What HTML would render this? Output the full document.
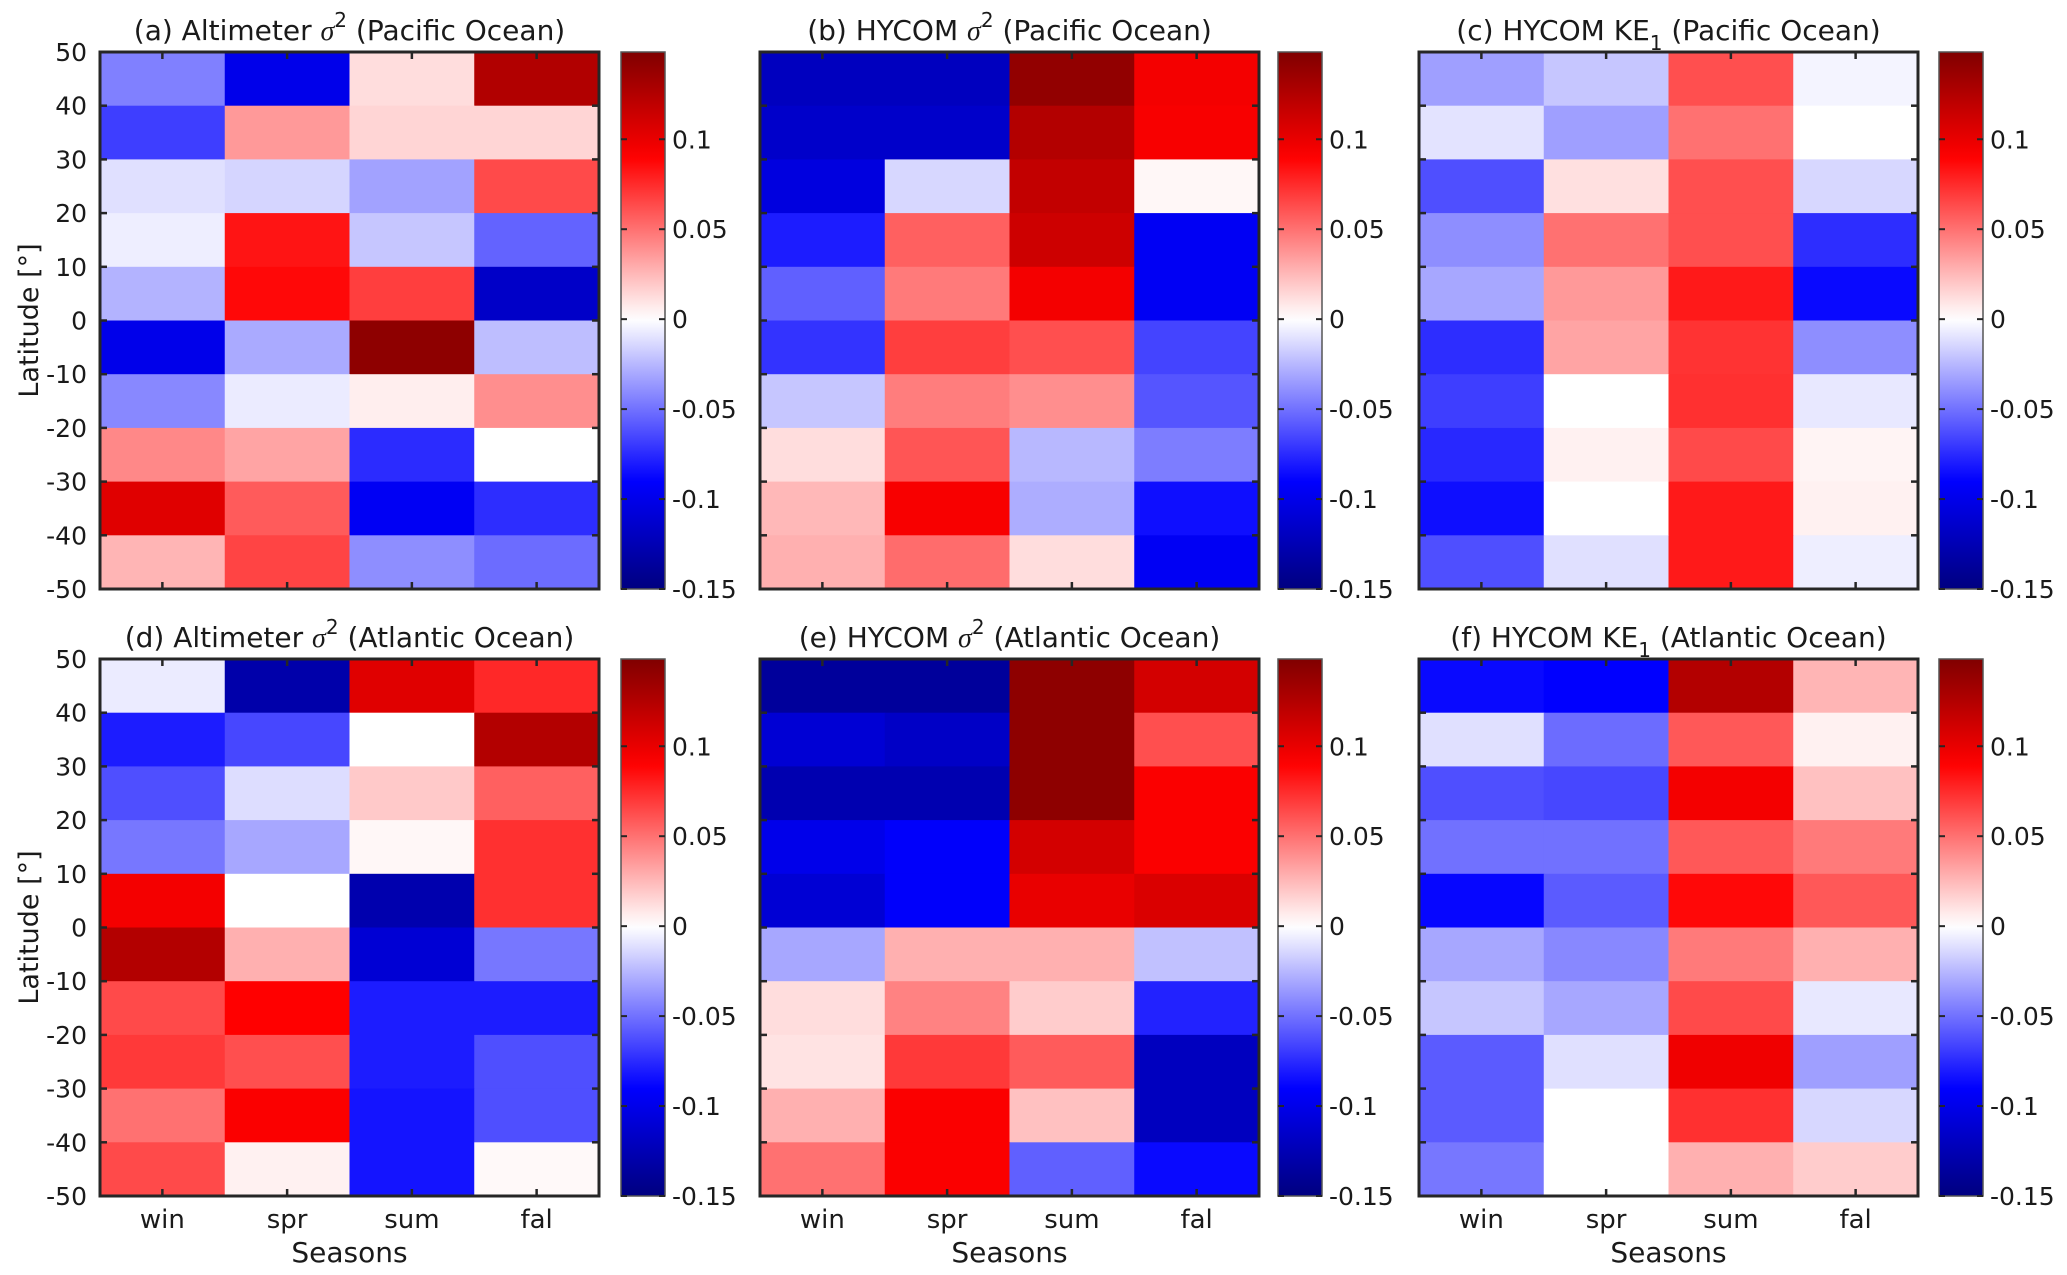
<!DOCTYPE html>
<html><head><meta charset="utf-8"><style>
html,body{margin:0;padding:0;background:#fff;}
svg{display:block;}
text{font-family:"DejaVu Sans","Liberation Sans",sans-serif;fill:#1a1a1a;}
</style></head><body>
<svg id="fig" width="2067" height="1275" viewBox="0 0 2067 1275" xmlns="http://www.w3.org/2000/svg"></svg>
<script>
const seasons = ["win","spr","sum","fal"];
const latTicks = [50,40,30,20,10,0,-10,-20,-30,-40,-50];
const cbTicks = [0.1,0.05,0,-0.05,-0.1,-0.15];
const cbTickLabels = ["0.1","0.05","0","-0.05","-0.1","-0.15"];
// rows: latitude bins top (40..50) to bottom (-50..-40); columns win,spr,sum,fal
const valsA = [[-0.045,-0.1,0.012,0.126],[-0.068,0.036,0.015,0.015],[-0.011,-0.015,-0.033,0.064],[-0.006,0.083,-0.02,-0.055],[-0.027,0.087,0.068,-0.116],[-0.1,-0.03,0.142,-0.023],[-0.042,-0.007,0.006,0.04],[0.042,0.032,-0.075,0],[0.104,0.058,-0.095,-0.074],[0.026,0.066,-0.04,-0.052]];
const valsB = [[-0.12,-0.12,0.14,0.095],[-0.115,-0.115,0.125,0.093],[-0.105,-0.014,0.118,0.003],[-0.08,0.056,0.113,-0.095],[-0.056,0.047,0.095,-0.095],[-0.072,0.068,0.062,-0.066],[-0.02,0.046,0.04,-0.06],[0.012,0.06,-0.025,-0.046],[0.025,0.093,-0.029,-0.085],[0.028,0.052,0.012,-0.095]];
const valsC = [[-0.034,-0.02,0.062,-0.004],[-0.01,-0.034,0.05,0],[-0.062,0.011,0.062,-0.014],[-0.04,0.05,0.062,-0.074],[-0.031,0.036,0.081,-0.087],[-0.074,0.032,0.072,-0.04],[-0.068,0,0.073,-0.008],[-0.076,0.005,0.064,0.004],[-0.085,0,0.081,0.005],[-0.062,-0.011,0.081,-0.006]];
const valsD = [[-0.007,-0.13,0.104,0.076],[-0.08,-0.065,0,0.125],[-0.062,-0.012,0.019,0.056],[-0.048,-0.031,0.003,0.073],[0.095,0,-0.128,0.073],[0.125,0.028,-0.11,-0.048],[0.064,0.09,-0.08,-0.08],[0.07,0.062,-0.08,-0.062],[0.05,0.092,-0.083,-0.062],[0.064,0.005,-0.083,0.002]];
const valsE = [[-0.137,-0.137,0.142,0.11],[-0.11,-0.117,0.142,0.062],[-0.127,-0.127,0.142,0.092],[-0.1,-0.092,0.11,0.092],[-0.11,-0.092,0.1,0.107],[-0.031,0.028,0.028,-0.022],[0.012,0.044,0.018,-0.078],[0.01,0.07,0.058,-0.12],[0.028,0.092,0.022,-0.12],[0.05,0.092,-0.056,-0.087]];
const valsF = [[-0.087,-0.09,0.125,0.026],[-0.011,-0.052,0.059,0.005],[-0.062,-0.065,0.095,0.022],[-0.05,-0.05,0.059,0.047],[-0.088,-0.058,0.087,0.059],[-0.031,-0.042,0.047,0.028],[-0.02,-0.031,0.064,-0.008],[-0.058,-0.011,0.097,-0.034],[-0.058,0,0.073,-0.014],[-0.048,0,0.028,0.018]];

const NS="http://www.w3.org/2000/svg";
const svg=document.getElementById('fig');
function mk(tag,attrs,parent){const e=document.createElementNS(NS,tag);for(const k in attrs)e.setAttribute(k,attrs[k]);(parent||svg).appendChild(e);return e;}
const VMIN=-0.15,VMAX=0.1485;
function cmap(v){
  let r,g,b;
  if(v<=-0.09){const t=Math.min(1,(-0.09-v)/0.06);r=0;g=0;b=1-0.5*t;}
  else if(v<0){const t=(v+0.09)/0.09;r=t;g=t;b=1;}
  else if(v<=0.09){const t=v/0.09;r=1;g=1-t;b=1-t;}
  else{const t=Math.min(1,(v-0.09)/0.0585);r=1-0.5*t;g=0;b=0;}
  return `rgb(${Math.round(r*255)},${Math.round(g*255)},${Math.round(b*255)})`;
}
const colsX=[100,760,1419], AW=499;
const rowsY=[52,659], AH=537;
const cbOff=[521,518,520], CBW=44;
const panels=[
 {id:'a',vals:valsA,col:0,row:0,pre:'(a) Altimeter ',kind:'sig',post:' (Pacific Ocean)'},
 {id:'b',vals:valsB,col:1,row:0,pre:'(b) HYCOM ',kind:'sig',post:' (Pacific Ocean)'},
 {id:'c',vals:valsC,col:2,row:0,pre:'(c) HYCOM ',kind:'ke',post:' (Pacific Ocean)'},
 {id:'d',vals:valsD,col:0,row:1,pre:'(d) Altimeter ',kind:'sig',post:' (Atlantic Ocean)'},
 {id:'e',vals:valsE,col:1,row:1,pre:'(e) HYCOM ',kind:'sig',post:' (Atlantic Ocean)'},
 {id:'f',vals:valsF,col:2,row:1,pre:'(f) HYCOM ',kind:'ke',post:' (Atlantic Ocean)'}
];
const defs=mk('defs',{});
const grad=mk('linearGradient',{id:'cbg',x1:0,y1:1,x2:0,y2:0},defs);
for(let i=0;i<=40;i++){const v=VMIN+(VMAX-VMIN)*i/40;mk('stop',{offset:(i/40),'stop-color':cmap(v)},grad);}

panels.forEach(p=>{
  const x0=colsX[p.col], y0=rowsY[p.row];
  const g=mk('g',{});
  
  
  const nR=p.vals.length, nC=seasons.length;
  const xs=c=>x0+AW*c/nC;
  const ys=lat=>y0+AH*(50-lat)/100;
  p.vals.forEach((row,ri)=>{
    row.forEach((v,ci)=>{
      const top=50-10*ri;
      const r=mk('rect',{x:xs(ci),y:ys(top),width:AW/nC+0.6,height:AH/nR+0.6,fill:cmap(v)},g);
      
      
    });
  });
  latTicks.forEach(t=>{
    const y=ys(t);
    mk('line',{x1:x0,y1:y,x2:x0+7,y2:y,stroke:'#262626','stroke-width':2.5},g);
    mk('line',{x1:x0+AW,y1:y,x2:x0+AW-7,y2:y,stroke:'#262626','stroke-width':2.5},g);
    if(p.col===0){const tl=mk('text',{x:x0-13,y:y+9,'text-anchor':'end','font-size':25},g);tl.textContent=t;
      }
  });
  seasons.forEach((s,ci)=>{
    const x=xs(ci+0.5);
    mk('line',{x1:x,y1:y0,x2:x,y2:y0+7,stroke:'#262626','stroke-width':2.5},g);
    mk('line',{x1:x,y1:y0+AH,x2:x,y2:y0+AH-7,stroke:'#262626','stroke-width':2.5},g);
    if(p.row===1){const tl=mk('text',{x:x,y:y0+AH+32,'text-anchor':'middle','font-size':26},g);tl.textContent=s;
      }
  });
  const fr=mk('rect',{x:x0,y:y0,width:AW,height:AH,fill:'none',stroke:'#262626','stroke-width':3},g);
  
  const tt=mk('text',{x:x0+AW/2,y:y0-12,'text-anchor':'middle','font-size':28},g);
  
  let t1=mk('tspan',{},tt);t1.textContent=p.pre;
  if(p.kind==='sig'){
    let s=mk('tspan',{'font-family':'Liberation Serif, serif','font-style':'italic'},tt);s.textContent='σ';
    let sp=mk('tspan',{dy:-13,'font-size':20},tt);sp.textContent='2';
    let t2=mk('tspan',{dy:13},tt);t2.textContent=p.post;
  } else {
    let s=mk('tspan',{},tt);s.textContent='KE';
    let sb=mk('tspan',{dy:10,'font-size':20},tt);sb.textContent='1';
    let t2=mk('tspan',{dy:-10},tt);t2.textContent=p.post;
  }
  if(p.col===0){
    const yl=mk('text',{x:0,y:0,'text-anchor':'middle','font-size':27,transform:`translate(38,${y0+AH/2}) rotate(-90)`},g);
    yl.textContent='Latitude [°]';
    
  }
  if(p.row===1){
    const xl=mk('text',{x:x0+AW/2,y:y0+AH+66,'text-anchor':'middle','font-size':28},g);
    xl.textContent='Seasons';
    
  }
  const cx=x0+cbOff[p.col];
  const cb=mk('rect',{x:cx,y:y0,width:CBW,height:AH,fill:'url(#cbg)',stroke:'#555','stroke-width':1.5},g);
  
  const cy=v=>y0+AH*(VMAX-v)/(VMAX-VMIN);
  cbTicks.forEach((t,i)=>{
    const y=cy(t);
    mk('line',{x1:cx+CBW,y1:y,x2:cx+CBW-6,y2:y,stroke:'#262626','stroke-width':2},g);
    mk('line',{x1:cx,y1:y,x2:cx+6,y2:y,stroke:'#262626','stroke-width':2},g);
    const tl=mk('text',{x:cx+CBW+7,y:y+9,'font-size':25},g);tl.textContent=cbTickLabels[i];
    
  });
});
</script>
</body></html>
